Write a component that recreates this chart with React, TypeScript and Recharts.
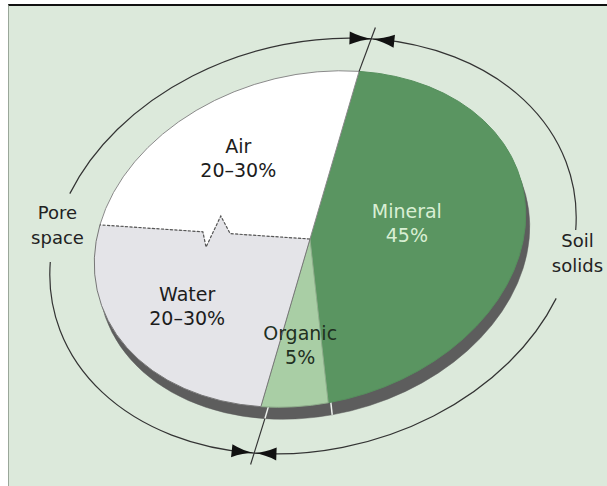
import React from "react";
import { PieChart, Pie } from "recharts";

// soil composition by volume
const PARTS = ["Mineral", "Organic", "Water", "Air"];
const SHARES = [45, 5, 25, 25];
const SHARE_TEXT = ["45%", "5%", "20–30%", "20–30%"];
const GROUPS = ["Soil solids", "Pore space"];
const GROUP_PARTS = [
  ["Mineral", "Organic"],
  ["Water", "Air"],
];

const partData = PARTS.map((name, i) => ({ name, value: SHARES[i], text: SHARE_TEXT[i] }));
const groupData = GROUPS.map((name, i) => ({
  name,
  value: GROUP_PARTS[i].reduce((s, p) => s + SHARES[PARTS.indexOf(p)], 0),
}));

const W = 607;
const H = 486;
const START = 65.5;
const TILT = 15; // ellipse tilt, degrees, counter-clockwise
const FACE = { cx: 310, cy: 239, r: 219, ratio: 164 / 219 };
const DEPTH = { dx: 4, dy: 12 };
const RING = { cx: 313, cy: 246, r: 267, ratio: 203 / 267 };
const GAP = 9.5;
const HEAD = 5;
const FONT = "'DejaVu Sans', sans-serif";

const FILL: Record<string, string> = { Mineral: "#5a9561", Organic: "#a9cea5", Water: "#e4e4e8", Air: "#ffffff" };
const EDGE: Record<string, string> = { Mineral: "#568f5d", Organic: "#8fae8c", Water: "#777777", Air: "#8a8a8a" };
const INK: Record<string, string> = { Mineral: "#d9efd4", Organic: "#1f301f", Water: "#1c1c1c", Air: "#1c1c1c" };
const LABEL_R: Record<string, number> = { Mineral: 0.45, Organic: 0.63, Water: 0.67, Air: 0.63 };
const LABEL_DY: Record<string, number> = { Mineral: -10, Water: -6 };
const RING_NUDGE: Record<string, Pt> = { "Soil solids": [8, -11], "Pore space": [1, -3] };
const BREAK_AFTER = "Water"; // Water/Air edge is drawn as a break line

type Pt = [number, number];

function ell(cx: number, cy: number, rx: number, ry: number, deg: number, k = 1): Pt {
  const t = (deg * Math.PI) / 180;
  const r = (TILT * Math.PI) / 180;
  const lx = k * rx * Math.cos(t);
  const ly = k * ry * Math.sin(t);
  return [cx + lx * Math.cos(r) - ly * Math.sin(r), cy - (lx * Math.sin(r) + ly * Math.cos(r))];
}

function arcTo(rx: number, ry: number, from: number, to: number, end: Pt) {
  const large = Math.abs(from - to) > 180 ? 1 : 0;
  return `A ${rx} ${ry} ${-TILT} ${large} 1 ${end[0]} ${end[1]}`;
}

// zigzag break points, from the centre outward
function zigPts(c: Pt, edge: Pt): Pt[] {
  const ux = edge[0] - c[0];
  const uy = edge[1] - c[1];
  const len = Math.hypot(ux, uy);
  const nx = -uy / len;
  const ny = ux / len;
  const steps: Array<[number, number]> = [
    [0.38, 0],
    [0.43, 17],
    [0.49, -15],
    [0.51, 0],
  ];
  return steps.map(([f, o]) => [c[0] + ux * f + nx * o, c[1] + uy * f + ny * o]);
}

const nameOf = (props: any) => props.payload?.name ?? props.name;

function depthShape(props: any) {
  const { cx, cy, outerRadius: rx, startAngle: a0, endAngle: a1 } = props;
  const ry = rx * FACE.ratio;
  const p0 = ell(cx, cy, rx, ry, a0);
  const p1 = ell(cx, cy, rx, ry, a1);
  return (
    <g>
      <path d={`M ${cx} ${cy} L ${p0[0]} ${p0[1]} ${arcTo(rx, ry, a0, a1, p1)} Z`} fill="#5d5d5d" stroke="#5d5d5d" strokeWidth={0.5} />
      <line x1={cx} y1={cy} x2={p0[0]} y2={p0[1]} stroke="#eef2ee" strokeWidth={1.5} />
    </g>
  );
}

function faceShape(props: any) {
  const { cx, cy, outerRadius: rx, startAngle: a0, endAngle: a1 } = props;
  const name = nameOf(props);
  const ry = rx * FACE.ratio;
  const c: Pt = [cx, cy];
  const p0 = ell(cx, cy, rx, ry, a0);
  const p1 = ell(cx, cy, rx, ry, a1);
  const zigStart = name === PARTS[PARTS.indexOf(BREAK_AFTER) + 1];
  const zigEnd = name === BREAK_AFTER;
  const zs = zigStart ? zigPts(c, p0) : [];
  const ze = zigEnd ? zigPts(c, p1).reverse() : [];
  const arc = arcTo(rx, ry, a0, a1, p1);
  const fillD = `M ${cx} ${cy} ${zs.map((p) => `L ${p[0]} ${p[1]}`).join(" ")} L ${p0[0]} ${p0[1]} ${arc} ${ze
    .map((p) => `L ${p[0]} ${p[1]}`)
    .join(" ")} Z`;
  const lineD = `${zigStart ? `M ${p0[0]} ${p0[1]}` : `M ${cx} ${cy} L ${p0[0]} ${p0[1]}`} ${arc} ${zigEnd ? "" : `L ${cx} ${cy}`}`;
  return (
    <g>
      <path d={fillD} fill={FILL[name]} stroke="none" />
      <path d={lineD} fill="none" stroke={EDGE[name]} strokeWidth={1} />
      {zigStart && (
        <polyline
          points={[c, ...zs, p0].map((p) => p.join(",")).join(" ")}
          fill="none"
          stroke="#555555"
          strokeWidth={1.2}
          strokeDasharray="3 1.5"
        />
      )}
    </g>
  );
}

function arrowHead(tip: Pt, base: Pt) {
  const dx = tip[0] - base[0];
  const dy = tip[1] - base[1];
  const L = Math.hypot(dx, dy);
  const nx = -dy / L;
  const ny = dx / L;
  const w = 6.5;
  const b1 = [base[0] + nx * w, base[1] + ny * w];
  const b2 = [base[0] - nx * w, base[1] - ny * w];
  const mx = (tip[0] + base[0]) / 2;
  const my = (tip[1] + base[1]) / 2;
  const c1 = [mx + nx * w * 0.2, my + ny * w * 0.2];
  const c2 = [mx - nx * w * 0.2, my - ny * w * 0.2];
  return `M ${tip} Q ${c1} ${b1} L ${b2} Q ${c2} ${tip} Z`;
}

function ringShape(props: any) {
  const { cx, cy, outerRadius: rx, startAngle: a0, endAngle: a1 } = props;
  const ry = rx * RING.ratio;
  const mid = props.midAngle ?? (a0 + a1) / 2;
  const P = (d: number, k = 1) => ell(cx, cy, rx, ry, d, k);
  const s = P(a0);
  const e = P(a1);
  const m0 = P(mid + GAP);
  const m1 = P(mid - GAP);
  const d = `M ${s} ${arcTo(rx, ry, a0, mid + GAP, m0)} M ${m1} ${arcTo(rx, ry, mid - GAP, a1, e)}`;
  let tin = ell(FACE.cx, FACE.cy, FACE.r, FACE.r * FACE.ratio, a0);
  if (Math.sin((a0 * Math.PI) / 180) < 0) tin = [tin[0] + DEPTH.dx, tin[1] + DEPTH.dy];
  const tout = P(a0, 1.055);
  return (
    <g>
      <path d={d} fill="none" stroke="#333333" strokeWidth={1.2} />
      <line x1={tin[0]} y1={tin[1]} x2={tout[0]} y2={tout[1]} stroke="#333333" strokeWidth={1.2} />
      <path d={arrowHead(s, P(a0 - HEAD))} fill="#111111" />
      <path d={arrowHead(e, P(a1 + HEAD))} fill="#111111" />
    </g>
  );
}

function faceLabel(props: any) {
  const { cx, cy, outerRadius: rx, midAngle } = props;
  const name = nameOf(props);
  const text = props.payload?.text ?? props.text;
  const p = ell(cx, cy, rx, rx * FACE.ratio, midAngle, LABEL_R[name]);
  const y = p[1] + (LABEL_DY[name] ?? 0);
  return (
    <text x={p[0]} y={y} textAnchor="middle" fill={INK[name]} fontFamily={FONT} fontSize={19}>
      <tspan x={p[0]} y={y - 12} dominantBaseline="central">
        {name}
      </tspan>
      <tspan x={p[0]} y={y + 12} dominantBaseline="central">
        {text}
      </tspan>
    </text>
  );
}

function ringLabel(props: any) {
  const { cx, cy, outerRadius: rx, midAngle } = props;
  const name: string = nameOf(props);
  const p = ell(cx, cy, rx, rx * RING.ratio, midAngle);
  const [nx, ny] = RING_NUDGE[name] ?? [0, 0];
  const x = p[0] + nx;
  const y = p[1] + ny;
  const [l1, l2] = name.split(" ");
  return (
    <text x={x} y={y} textAnchor="middle" fill="#222222" fontFamily={FONT} fontSize={18}>
      <tspan x={x} y={y - 12.5} dominantBaseline="central">
        {l1}
      </tspan>
      <tspan x={x} y={y + 12.5} dominantBaseline="central">
        {l2}
      </tspan>
    </text>
  );
}

export default function App() {
  return (
    <div style={{ position: "fixed", left: 0, top: 0, width: W, height: H, background: "#ffffff", overflow: "hidden" }}>
      <div
        style={{
          position: "absolute",
          left: 8,
          top: 4,
          width: W - 8,
          height: H - 4,
          background: "#dce9db",
          borderTop: "2px solid #111111",
          borderLeft: "1px solid #9aa79a",
          boxSizing: "border-box",
        }}
      />
      <div style={{ position: "absolute", left: 0, top: 0 }}>
        <PieChart width={W} height={H} margin={{ top: 0, right: 0, bottom: 0, left: 0 }}>
          <Pie
            data={partData}
            dataKey="value"
            nameKey="name"
            cx={FACE.cx + DEPTH.dx}
            cy={FACE.cy + DEPTH.dy}
            outerRadius={FACE.r}
            startAngle={START}
            endAngle={START - 360}
            stroke="none"
            isAnimationActive={false}
            shape={depthShape}
          />
          <Pie
            data={partData}
            dataKey="value"
            nameKey="name"
            cx={FACE.cx}
            cy={FACE.cy}
            outerRadius={FACE.r}
            startAngle={START}
            endAngle={START - 360}
            stroke="none"
            isAnimationActive={false}
            shape={faceShape}
            label={faceLabel}
            labelLine={false}
          />
          <Pie
            data={groupData}
            dataKey="value"
            nameKey="name"
            cx={RING.cx}
            cy={RING.cy}
            outerRadius={RING.r}
            startAngle={START}
            endAngle={START - 360}
            stroke="none"
            isAnimationActive={false}
            shape={ringShape}
            label={ringLabel}
            labelLine={false}
          />
        </PieChart>
      </div>
    </div>
  );
}
